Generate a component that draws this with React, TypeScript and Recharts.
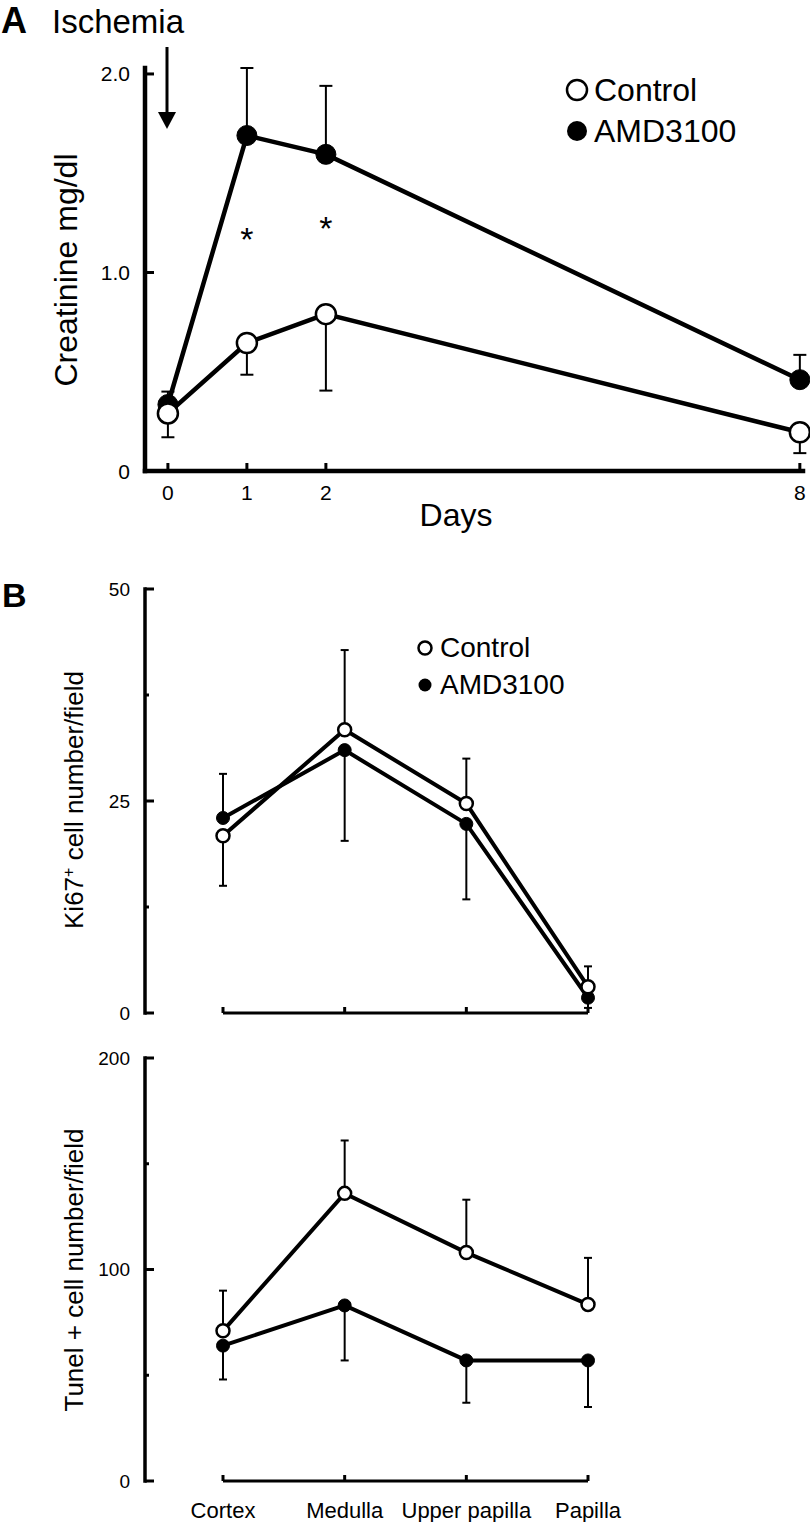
import { LineChart, Line, XAxis, YAxis, ErrorBar, ReferenceLine, ReferenceDot } from "recharts";

const FONT = "'Liberation Sans', Arial, Helvetica, sans-serif";
const INK = "#000";

// ---- A: serum creatinine after ischemia ----
const days = [0, 1, 2, 8];
const dayLabels = ["0", "1", "2", "8"];
const creatControl = [0.29, 0.645, 0.79, 0.195];
const creatControlSemDown = [0.12, 0.16, 0.385, 0.105];
const creatAmd = [0.335, 1.69, 1.595, 0.46];
const creatAmdSemUp = [0.065, 0.34, 0.345, 0.125];
const creatTicks = [0, 1, 2];
const creatTickLabels = ["0", "1.0", "2.0"];
const starDays = [1, 2];
const starLevels = [1.21, 1.265];

// ---- B: Ki67 / Tunel positive cells per region ----
const regions = ["Cortex", "Medulla", "Upper papilla", "Papilla"];
const ki67Control = [20.9, 33.4, 24.7, 3.1];
const ki67ControlDown = [5.9, 0, 0, 0];
const ki67ControlUp = [0, 9.4, 5.3, 2.4];
const ki67Amd = [23.0, 31.0, 22.3, 1.8];
const ki67AmdDown = [0, 10.7, 8.9, 1.2];
const ki67AmdUp = [5.2, 0, 0, 0];
const ki67Ticks = [0, 12.5, 25, 37.5, 50];
const ki67Labeled = [0, 25, 50];

const tunelControl = [71, 136, 108, 83.5];
const tunelControlUp = [19, 25, 25, 22];
const tunelAmd = [64, 83, 57, 57];
const tunelAmdDown = [16, 26, 20, 22];
const tunelTicks = [0, 50, 100, 150, 200];
const tunelLabeled = [0, 100, 200];

const creatData = days.map((day, i) => ({
  day,
  control: creatControl[i],
  controlErr: [creatControlSemDown[i], 0],
  amd: creatAmd[i],
  amdErr: [0, creatAmdSemUp[i]],
}));

const ki67Data = regions.map((region, i) => ({
  region,
  control: ki67Control[i],
  controlErr: [ki67ControlDown[i], ki67ControlUp[i]],
  amd: ki67Amd[i],
  amdErr: [ki67AmdDown[i], ki67AmdUp[i]],
}));

const tunelData = regions.map((region, i) => ({
  region,
  control: tunelControl[i],
  controlErr: [0, tunelControlUp[i]],
  amd: tunelAmd[i],
  amdErr: [tunelAmdDown[i], 0],
}));

// y ticks point inward (to the right), labels on the left
const makeYTick =
  (labeled: number[], label: (v: number) => string, fontSize: number) =>
  (props: any) => {
    const { x, y, payload } = props;
    const major = labeled.includes(payload.value);
    return (
      <g>
        <line x1={x} y1={y} x2={x + (major ? 9 : 4)} y2={y} stroke={INK} strokeWidth={3} />
        {major && (
          <text x={x - 15} y={y} textAnchor="end" dominantBaseline="central" fontSize={fontSize} fontFamily={FONT} fill={INK}>
            {label(payload.value)}
          </text>
        )}
      </g>
    );
  };

const DayTick = (props: any) => {
  const { x, y, index } = props;
  return (
    <g>
      <line x1={x} y1={y} x2={x} y2={y - 8} stroke={INK} strokeWidth={3} />
      <text x={x} y={y + 21} textAnchor="middle" dominantBaseline="central" fontSize={21} fontFamily={FONT} fill={INK}>
        {dayLabels[index]}
      </text>
    </g>
  );
};

const makeRegionTick = (showLabel: boolean) => (props: any) => {
  const { x, y, payload } = props;
  return (
    <g>
      <line x1={x} y1={y} x2={x} y2={y - 6} stroke={INK} strokeWidth={3} />
      {showLabel && (
        <text x={x} y={y + 29} textAnchor="middle" dominantBaseline="central" fontSize={22} fontFamily={FONT} fill={INK}>
          {payload.value}
        </text>
      )}
    </g>
  );
};

const openDot = (r: number) => ({ r, fill: "#fff", stroke: INK, strokeWidth: 2.5 });
const fullDot = (r: number) => ({ r, fill: INK, stroke: INK, strokeWidth: 1 });

function RegionChart({ data, ticks, labeled, domain, showLabels, height, top, bottom, xHeight }: any) {
  return (
    <LineChart width={810} height={height} data={data} margin={{ top, right: 222, left: 85, bottom }}>
      <XAxis
        dataKey="region"
        padding={{ left: 78, right: 0 }}
        axisLine={false}
        tickLine={false}
        tickSize={0}
        tickMargin={0}
        interval={0}
        height={xHeight}
        tick={makeRegionTick(showLabels)}
      />
      <YAxis
        type="number"
        domain={domain}
        ticks={ticks}
        interval={0}
        width={60}
        tickSize={0}
        tickMargin={0}
        tickLine={false}
        axisLine={{ stroke: INK, strokeWidth: 3.5, strokeLinecap: "square" }}
        tick={makeYTick(labeled, (v) => String(v), 19)}
      />
      <ReferenceLine
        segment={[
          { x: regions[0], y: 0 },
          { x: regions[regions.length - 1], y: 0 },
        ]}
        stroke={INK}
        strokeWidth={3}
      />
      <Line type="linear" dataKey="amd" stroke={INK} strokeWidth={4} dot={fullDot(6.5)} activeDot={false} isAnimationActive={false}>
        <ErrorBar dataKey="amdErr" width={4} stroke={INK} strokeWidth={2} />
      </Line>
      <Line type="linear" dataKey="control" stroke={INK} strokeWidth={4} dot={openDot(6.5)} activeDot={false} isAnimationActive={false}>
        <ErrorBar dataKey="controlErr" width={4} stroke={INK} strokeWidth={2} />
      </Line>
    </LineChart>
  );
}

export default function App() {
  return (
    <div style={{ position: "absolute", left: 0, top: 0, width: 810, height: 1522, background: "#fff", fontFamily: FONT }}>
      {/* A */}
      <div style={{ position: "absolute", left: 0, top: 0 }}>
        <LineChart width={810} height={560} data={creatData} margin={{ top: 68, right: 7, left: 85, bottom: 49 }}>
          <XAxis
            type="number"
            dataKey="day"
            domain={[-0.29, 8.04]}
            ticks={days}
            interval={0}
            height={40}
            tickSize={0}
            tickMargin={0}
            tickLine={false}
            axisLine={{ stroke: INK, strokeWidth: 4.5, strokeLinecap: "square" }}
            tick={DayTick}
          />
          <YAxis
            type="number"
            domain={[0, 2]}
            ticks={creatTicks}
            interval={0}
            width={60}
            tickSize={0}
            tickMargin={0}
            tickLine={false}
            axisLine={{ stroke: INK, strokeWidth: 4.5, strokeLinecap: "square" }}
            tick={makeYTick(creatTicks, (v) => creatTickLabels[creatTicks.indexOf(v)], 21)}
          />
          <Line type="linear" dataKey="amd" stroke={INK} strokeWidth={4.5} dot={fullDot(10)} activeDot={false} isAnimationActive={false}>
            <ErrorBar dataKey="amdErr" width={6.5} stroke={INK} strokeWidth={2} />
          </Line>
          <Line type="linear" dataKey="control" stroke={INK} strokeWidth={4.5} dot={openDot(10)} activeDot={false} isAnimationActive={false}>
            <ErrorBar dataKey="controlErr" width={6.5} stroke={INK} strokeWidth={2} />
          </Line>
          {starDays.map((d, i) => (
            <ReferenceDot
              key={d}
              x={d}
              y={starLevels[i]}
              r={8}
              ifOverflow="visible"
              shape={(p: any) => (
                <text x={p.cx} y={p.cy + 20} textAnchor="middle" fontSize={34} fontFamily={FONT} fill={INK}>
                  *
                </text>
              )}
            />
          ))}
        </LineChart>
      </div>

      {/* B, Ki67 */}
      <div style={{ position: "absolute", left: 0, top: 540 }}>
        <RegionChart data={ki67Data} ticks={ki67Ticks} labeled={ki67Labeled} domain={[0, 50]} showLabels={false} height={500} top={49} bottom={7} xHeight={20} />
      </div>

      {/* B, Tunel */}
      <div style={{ position: "absolute", left: 0, top: 1020 }}>
        <RegionChart data={tunelData} ticks={tunelTicks} labeled={tunelLabeled} domain={[0, 200]} showLabels={true} height={502} top={38} bottom={5} xHeight={36} />
      </div>

      {/* panel letters, titles, legends */}
      <svg width={810} height={1522} style={{ position: "absolute", left: 0, top: 0, pointerEvents: "none" }} fontFamily={FONT}>
        <text x={1} y={33} fontSize={36} fontWeight="bold">A</text>
        <text x={52} y={33} fontSize={33}>Ischemia</text>
        <line x1={167} y1={47} x2={167} y2={116} stroke={INK} strokeWidth={3} />
        <polygon points="158,112 176,112 167,129" fill={INK} />
        <text transform="translate(77,270) rotate(-90)" textAnchor="middle" fontSize={32}>Creatinine mg/dl</text>
        <text x={456} y={526} textAnchor="middle" fontSize={32}>Days</text>

        <circle cx={577} cy={90} r={10} fill="#fff" stroke={INK} strokeWidth={2.5} />
        <text x={594} y={101} fontSize={32}>Control</text>
        <circle cx={577} cy={131} r={10} fill={INK} />
        <text x={594} y={142} fontSize={32}>AMD3100</text>

        <text x={2} y={607} fontSize={34} fontWeight="bold">B</text>
        <circle cx={425} cy={648} r={6.5} fill="#fff" stroke={INK} strokeWidth={2.5} />
        <text x={440} y={657} fontSize={28}>Control</text>
        <circle cx={425} cy={685} r={6.5} fill={INK} />
        <text x={440} y={694} fontSize={28}>AMD3100</text>

        <text transform="translate(83,800) rotate(-90)" textAnchor="middle" fontSize={26}>
          Ki67<tspan dy={-9} fontSize={16}>+</tspan>
          <tspan dy={9}> cell number/field</tspan>
        </text>
        <text transform="translate(83,1270) rotate(-90)" textAnchor="middle" fontSize={26}>Tunel + cell number/field</text>
      </svg>
    </div>
  );
}
